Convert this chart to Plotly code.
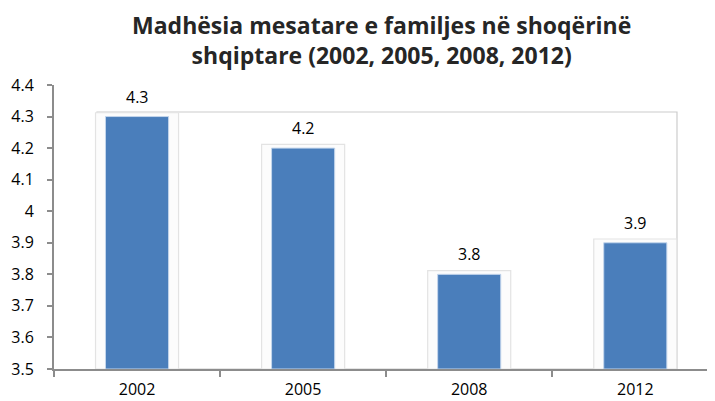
import plotly.graph_objects as go

years = ["2002", "2005", "2008", "2012"]
values = [4.3, 4.2, 3.8, 3.9]
y_ticks = [3.5, 3.6, 3.7, 3.8, 3.9, 4.0, 4.1, 4.2, 4.3, 4.4]
y_tick_text = ["3.5", "3.6", "3.7", "3.8", "3.9", "4", "4.1", "4.2", "4.3", "4.4"]

title_text = "Madhësia mesatare e familjes në shoqërinë<br>shqiptare (2002, 2005, 2008, 2012)"
y_min = 3.5

fig = go.Figure()

# soft halo behind each bar
fig.add_trace(go.Bar(
    x=years, y=[v - y_min + 0.012 for v in values], base=y_min,
    width=0.5, marker=dict(color="#fcfcfc", line=dict(color="#e3e3e3", width=1.2)),
    hoverinfo="skip", showlegend=False,
))
fig.add_trace(go.Bar(
    x=years, y=[v - y_min for v in values], base=y_min,
    width=0.38, marker=dict(color="#4a7ebb", line=dict(color="#c4d6ec", width=1)),
    showlegend=False,
))

annotations = [
    dict(x=i, y=v, xref="x", yref="y", text=f"{v:g}", showarrow=False,
         yanchor="bottom", yshift=7, font=dict(family="Open Sans", size=16, color="#000000"))
    for i, v in enumerate(values)
]
annotations.append(dict(
    x=0.496, y=1, xref="paper", yref="paper", xanchor="center", yanchor="bottom", yshift=12,
    text=title_text, showarrow=False,
    font=dict(family="Open Sans", size=23, color="#262626", weight="bold"),
))

fig.update_layout(
    width=707, height=393,
    margin=dict(l=46, r=0, t=77, b=32),
    plot_bgcolor="white", paper_bgcolor="white",
    barmode="overlay",
    font=dict(family="Open Sans", size=15, color="#000000"),
    annotations=annotations,
    shapes=[dict(type="rect", xref="paper", yref="paper", x0=0.065, x1=0.9425, y0=0, y1=0.905,
                 line=dict(color="#cccccc", width=1.2), fillcolor="rgba(0,0,0,0)", layer="below")],
)
fig.update_xaxes(
    type="category", range=[-0.5, 3.48], automargin=False,
    showline=True, linecolor="#8c8c8c", linewidth=2,
    ticks="outside", tickson="boundaries", ticklen=6, tickcolor="#8c8c8c", tickwidth=2,
    ticklabelstandoff=5,
    showgrid=False, tickfont=dict(family="Open Sans", size=16, color="#000000"),
)
fig.update_yaxes(
    range=[3.5, 4.4], tickvals=y_ticks, ticktext=y_tick_text, automargin=False,
    showline=True, linecolor="#8c8c8c", linewidth=2,
    ticks="outside", ticklen=5, tickcolor="#8c8c8c", tickwidth=2,
    ticklabelstandoff=10,
    showgrid=False, zeroline=False, tickfont=dict(family="Open Sans", size=16, color="#000000"),
)

fig.write_html("out.html")
